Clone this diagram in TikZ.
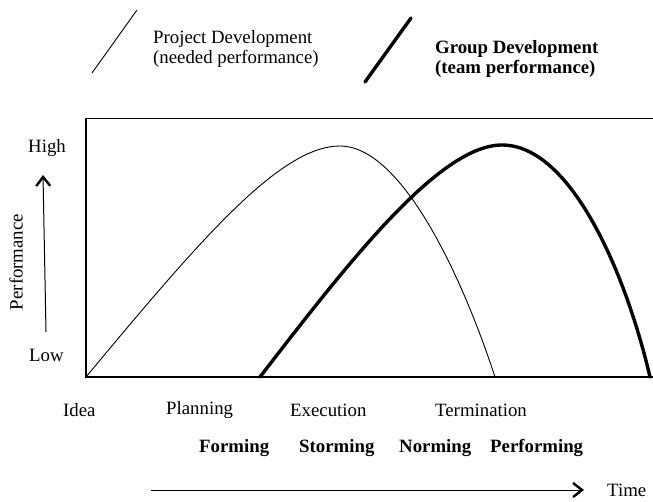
\documentclass[tikz,border=0pt]{standalone}
\usepackage{fontspec}
\setmainfont{Liberation Serif}
\usetikzlibrary{arrows.meta}
\tikzset{
  lbl/.style={anchor=base west,inner sep=0pt,font=\fontsize{18.8}{22}\selectfont},
  blbl/.style={lbl,font=\fontsize{18.8}{22}\selectfont\bfseries},
  thincurve/.style={line width=0.9pt},
  thickcurve/.style={line width=3.4pt,line cap=round},
  frame/.style={line width=1.2pt},
  axisarrow/.style={line width=1pt,-{Straight Barb[length=9pt,width=14pt,line width=2.4pt]}}
}
\begin{document}
\begin{tikzpicture}[x=1pt,y=-1pt]
\useasboundingbox (0,0) rectangle (653,502);
% legend
\coordinate (l1a) at (92,73); \coordinate (l1b) at (137,10);
\draw[thincurve] (l1a) -- (l1b);
\node[lbl] (pd1) at (153,44) {Project Development};
\node[lbl] (pd2) at (153,64) {(needed performance)};
\coordinate (l2a) at (365,82); \coordinate (l2b) at (411,18);
\draw[thickcurve] (l2a) -- (l2b);
\node[blbl] (gd1) at (435,54) {Group Development};
\node[blbl] (gd2) at (435,74) {(team performance)};
% frame
\coordinate (tr) at (653,118.5); \coordinate (tl) at (86,118.5);
\coordinate (bl) at (86,377); \coordinate (br) at (653,377);
\draw[frame] (tr) -- (tl) -- (bl) -- (br);
% project curve
\draw[thincurve] (86,377) .. controls (200,240) and (280,146) .. (340,146)
  .. controls (400,146) and (460,270) .. (495,377);
% group curve
\draw[thickcurve] (260,377) .. controls (350,260) and (440,145) .. (502,145)
  .. controls (570,145) and (625,270) .. (650,377);
% y axis
\node[lbl] (high) at (28,153) {High};
\node[lbl] (low) at (29,362) {Low};
\coordinate (ya) at (46,332); \coordinate (yb) at (43,175);
\draw[axisarrow] (ya) -- (yb);
\node[inner sep=0pt,rotate=90,font=\fontsize{18.8}{22}\selectfont] (perf) at (16,262) {Performance};
% phases
\node[lbl] (idea) at (63,416) {Idea};
\node[lbl] (plan) at (166,414) {Planning};
\node[lbl] (exec) at (290,416) {Execution};
\node[lbl] (term) at (435,416) {Termination};
\node[blbl] (form) at (199,452) {Forming};
\node[blbl] (storm) at (299,452) {Storming};
\node[blbl] (norm) at (399,452) {Norming};
\node[blbl] (perfm) at (490,452) {Performing};
% time axis
\coordinate (ta) at (151,490); \coordinate (tb) at (584,490);
\draw[axisarrow] (ta) -- (tb);
\node[lbl] (time) at (607,496) {Time};
\end{tikzpicture}
\end{document}
